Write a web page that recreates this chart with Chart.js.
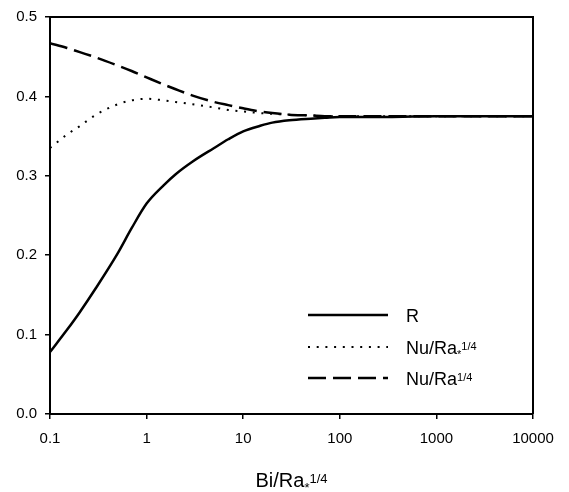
<!DOCTYPE html>
<html>
<head>
<meta charset="utf-8">
<script src="https://cdn.jsdelivr.net/npm/chart.js@4.4.1/dist/chart.umd.min.js"></script>
<style>
  html, body { margin: 0; padding: 0; background: #fff; }
  #wrap { width: 569px; height: 492px; }
</style>
</head>
<body>
<div id="wrap"><canvas id="c" width="569" height="492"></canvas></div>
<script>
// ---- data ----
const xValues      = [0.1, 0.15, 0.2, 0.3, 0.5, 0.7, 1, 1.5, 2, 3, 5, 7, 10, 15, 20, 30, 50, 70, 100, 200, 1000, 10000];
const rValues      = [0.078, 0.106, 0.127, 0.159, 0.202, 0.234, 0.265, 0.288, 0.302, 0.318, 0.335, 0.346, 0.356, 0.363, 0.367, 0.370, 0.372, 0.373, 0.374, 0.374, 0.375, 0.375];
const nuStarValues = [0.335, 0.352, 0.362, 0.377, 0.390, 0.395, 0.397, 0.395, 0.393, 0.390, 0.386, 0.383, 0.381, 0.379, 0.378, 0.377, 0.376, 0.375, 0.375, 0.375, 0.375, 0.375];
const nuValues     = [0.467, 0.461, 0.456, 0.449, 0.439, 0.432, 0.424, 0.415, 0.409, 0.401, 0.393, 0.389, 0.385, 0.381, 0.379, 0.377, 0.376, 0.375, 0.375, 0.375, 0.375, 0.375];

const xTickValues = [0.1, 1, 10, 100, 1000, 10000];
const xTickLabels = ['0.1', '1', '10', '100', '1000', '10000'];
const yTickValues = [0, 0.1, 0.2, 0.3, 0.4, 0.5];
const yTickLabels = ['0.0', '0.1', '0.2', '0.3', '0.4', '0.5'];

const seriesNames = ['R', 'Nu/Ra', 'Nu/Ra'];
const seriesStars = ['', '*', ''];
const seriesSups  = ['', '1/4', '1/4'];
const xTitleMain = 'Bi/Ra';
const xTitleStar = '*';
const xTitleSup  = '1/4';

const FONT = '"Liberation Sans", Arial, sans-serif';
const toPts = (ys) => xValues.map((x, i) => ({ x: x, y: ys[i] }));

function richWidth(ctx, main, star, sup, size, small) {
  ctx.save();
  ctx.font = size + 'px ' + FONT;
  let w = ctx.measureText(main).width;
  ctx.font = small + 'px ' + FONT;
  w += ctx.measureText(star + sup).width;
  ctx.restore();
  return w;
}

function drawRich(ctx, x, y, main, star, sup, size, small) {
  ctx.save();
  ctx.fillStyle = '#000';
  ctx.textBaseline = 'alphabetic';
  ctx.textAlign = 'left';
  ctx.font = size + 'px ' + FONT;
  ctx.fillText(main, x, y);
  let cx = x + ctx.measureText(main).width;
  ctx.font = small + 'px ' + FONT;
  if (star) {
    ctx.fillText(star, cx, y + small * 0.35);
    cx += ctx.measureText(star).width;
  }
  if (sup) {
    ctx.fillText(sup, cx, y - size * 0.22);
  }
  ctx.restore();
}

const framePlugin = {
  id: 'frame',
  afterDatasetsDraw(chart) {
    const { ctx, chartArea: a } = chart;
    ctx.save();
    ctx.strokeStyle = '#000';
    ctx.lineWidth = 2;
    ctx.beginPath();
    ctx.moveTo(a.left, a.top);
    ctx.lineTo(a.right, a.top);
    ctx.lineTo(a.right, a.bottom);
    ctx.stroke();
    ctx.restore();
  }
};

const legendPlugin = {
  id: 'innerLegend',
  afterDraw(chart) {
    const { ctx } = chart;
    const x0 = 308, x1 = 388, tx = 406;
    const rows = [315, 347, 378];
    chart.data.datasets.forEach((ds, i) => {
      const y = rows[i];
      ctx.save();
      ctx.strokeStyle = ds.borderColor;
      ctx.lineWidth = ds.borderWidth;
      ctx.setLineDash(ds.borderDash || []);
      ctx.beginPath();
      ctx.moveTo(x0, y);
      ctx.lineTo(x1, y);
      ctx.stroke();
      ctx.restore();
      drawRich(ctx, tx, y + 7, seriesNames[i], seriesStars[i], seriesSups[i], 18, 11);
    });
  }
};

const titlePlugin = {
  id: 'xTitle',
  afterDraw(chart) {
    const { ctx, chartArea: a } = chart;
    const w = richWidth(ctx, xTitleMain, xTitleStar, xTitleSup, 20, 13);
    const cx = (a.left + a.right) / 2;
    drawRich(ctx, cx - w / 2, 487, xTitleMain, xTitleStar, xTitleSup, 20, 13);
  }
};

new Chart(document.getElementById('c'), {
  type: 'line',
  data: {
    datasets: [
      { label: 'R', data: toPts(rValues), borderColor: '#000', borderWidth: 2.5, borderDash: [], pointRadius: 0, cubicInterpolationMode: 'monotone', fill: false },
      { label: 'Nu/Ra*1/4', data: toPts(nuStarValues), borderColor: '#000', borderWidth: 2, borderDash: [2, 6.7], pointRadius: 0, cubicInterpolationMode: 'monotone', fill: false },
      { label: 'Nu/Ra1/4', data: toPts(nuValues), borderColor: '#000', borderWidth: 2.5, borderDash: [18, 7], pointRadius: 0, cubicInterpolationMode: 'monotone', fill: false }
    ]
  },
  options: {
    responsive: false,
    animation: false,
    devicePixelRatio: 1,
    layout: { padding: { top: 12, right: 36, left: 0, bottom: 0 } },
    plugins: { legend: { display: false }, tooltip: { enabled: false }, title: { display: false } },
    scales: {
      x: {
        type: 'logarithmic',
        min: 0.1,
        max: 10000,
        afterBuildTicks(scale) { scale.ticks = xTickValues.map(v => ({ value: v })); },
        afterFit(scale) { scale.height = 78; },
        grid: { display: true, drawOnChartArea: false, drawTicks: true, tickLength: 5, color: '#000', lineWidth: 1.5 },
        border: { display: true, color: '#000', width: 2 },
        ticks: {
          autoSkip: false, maxRotation: 0, padding: 11, color: '#000',
          font: { family: FONT, size: 15 },
          callback: (v, i) => xTickLabels[i]
        },
        title: { display: false }
      },
      y: {
        type: 'linear',
        min: 0,
        max: 0.5,
        afterBuildTicks(scale) { scale.ticks = yTickValues.map(v => ({ value: v })); },
        afterFit(scale) { scale.width = 50; },
        grid: { display: true, drawOnChartArea: false, drawTicks: true, tickLength: 5, color: '#000', lineWidth: 1.5 },
        border: { display: true, color: '#000', width: 2 },
        ticks: {
          autoSkip: false, padding: 8, color: '#000',
          font: { family: FONT, size: 15 },
          callback: (v, i) => yTickLabels[i]
        }
      }
    }
  },
  plugins: [framePlugin, legendPlugin, titlePlugin]
});
</script>
</body>
</html>
